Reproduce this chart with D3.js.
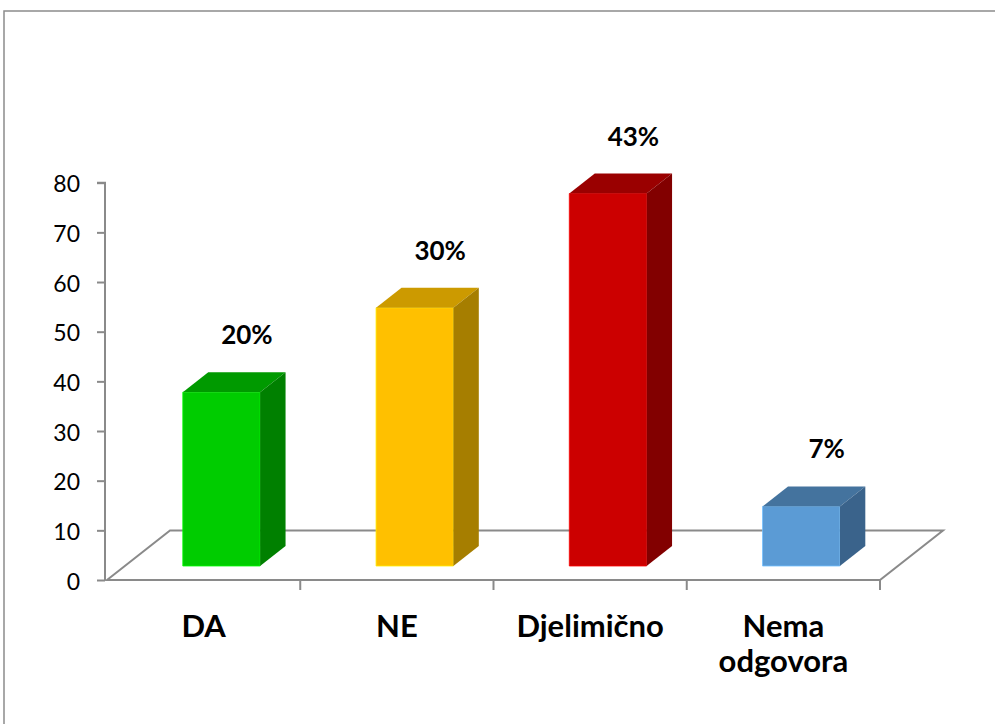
<!DOCTYPE html>
<html>
<head>
<meta charset="utf-8">
<script src="https://cdn.jsdelivr.net/npm/d3@7"></script>
<style>
  html, body { margin: 0; padding: 0; background: #fff; }
  svg { display: block; }
  text { font-family: Lato, "Open Sans", sans-serif; fill: #000; }
</style>
</head>
<body>
<svg id="chart" width="995" height="724"></svg>
<script>
// Survey answers and their counts
const categories = ["DA", "NE", "Djelimično", "Nema odgovora"];
const values = [35, 52, 75, 12];
const yTicks = [0, 10, 20, 30, 40, 50, 60, 70, 80];

// Face colours per bar: front, top, side
const frontColors = ["#00CC00", "#FFC000", "#CC0000", "#5B9BD5"];
const topColors   = ["#009A00", "#CC9A00", "#9A0000", "#44739E"];
const sideColors  = ["#008000", "#A67E00", "#820000", "#3A638B"];

const svg = d3.select("#chart");

// Outer chart frame
svg.append("rect")
  .attr("x", 4).attr("y", 11)
  .attr("width", 1100).attr("height", 800)
  .attr("fill", "none")
  .attr("stroke", "#8c8c8c")
  .attr("stroke-width", 1.5);

// Plot geometry (oblique 3D projection)
const floorLeft = 107, floorRight = 880, floorFront = 580;
const depthX = 63, depthY = -49.5;         // floor depth vector
const barFront = 0.283, barBack = 0.687;   // bar position inside the floor depth

const x = d3.scaleBand().domain(categories).range([floorLeft, floorRight]).padding(0);
const y = d3.scaleLinear().domain([0, 80]).range([floorFront, 182.7]);

const grey = "#8a8a8a";

// Floor
const floorPts = [
  [floorLeft, floorFront],
  [floorLeft + depthX, floorFront + depthY],
  [floorRight + depthX, floorFront + depthY],
  [floorRight, floorFront]
];
svg.append("path")
  .attr("d", d3.line()(floorPts) + "Z")
  .attr("fill", "#fff")
  .attr("stroke", grey)
  .attr("stroke-width", 2);

// Value axis
const yAxis = d3.axisLeft(y).tickValues(yTicks).tickSize(8).tickPadding(17);
const yg = svg.append("g")
  .attr("transform", `translate(${floorLeft - 2},0)`)
  .call(yAxis);
yg.select(".domain").attr("stroke", grey).attr("stroke-width", 2)
  .attr("d", `M-8,${y(80)}H0V${y(0)}`);
yg.selectAll(".tick line").attr("stroke", grey).attr("stroke-width", 2);
yg.selectAll(".tick text")
  .style("font-size", "23px")
  .attr("dy", "0.4em");

// Category separators below the floor's front edge
const sepX = categories.map(c => x(c) + x.step());
svg.append("g").selectAll("line")
  .data(sepX)
  .join("line")
  .attr("x1", d => d).attr("x2", d => d)
  .attr("y1", floorFront).attr("y2", floorFront + 10)
  .attr("stroke", grey).attr("stroke-width", 2);

// Bars
const total = d3.sum(values);
const barW = x.step() * 0.4;
const bdx = depthX * (barBack - barFront), bdy = depthY * (barBack - barFront);
const offX = depthX * barFront, offY = depthY * barFront;

const bars = svg.append("g").selectAll("g")
  .data(categories.map((c, i) => ({ c, v: values[i], i })))
  .join("g");

bars.each(function(d) {
  const g = d3.select(this);
  const x0 = x(d.c) + (x.step() - barW) / 2 + offX;
  const x1 = x0 + barW;
  const yb = y(0) + offY;
  const yt = y(d.v) + offY;
  // front face
  g.append("path")
    .attr("d", d3.line()([[x0, yb], [x0, yt], [x1, yt], [x1, yb]]) + "Z")
    .attr("fill", frontColors[d.i])
    .attr("stroke", d3.color(frontColors[d.i]).brighter(0.6))
    .attr("stroke-width", 0.8);
  // top face
  g.append("path")
    .attr("d", d3.line()([[x0, yt], [x0 + bdx, yt + bdy], [x1 + bdx, yt + bdy], [x1, yt]]) + "Z")
    .attr("fill", topColors[d.i]);
  // side face
  g.append("path")
    .attr("d", d3.line()([[x1, yt], [x1 + bdx, yt + bdy], [x1 + bdx, yb + bdy], [x1, yb]]) + "Z")
    .attr("fill", sideColors[d.i]);
  // percentage label
  g.append("text")
    .attr("x", (x0 + x1) / 2 + bdx)
    .attr("y", yt + bdy - 28)
    .attr("text-anchor", "middle")
    .style("font-size", "26px")
    .style("font-weight", "bold")
    .text(Math.round(d.v / total * 100) + "%");
});

// Category labels (wrapped on spaces for long names)
const catLabels = svg.append("g").selectAll("text")
  .data(categories)
  .join("text")
  .attr("text-anchor", "middle")
  .attr("transform", d => `translate(${x(d) + x.step() / 2},637)`)
  .style("font-size", "31px")
  .style("font-weight", "bold");
catLabels.each(function(d) {
  const words = d.length > 10 ? d.split(" ") : [d];
  d3.select(this).selectAll("tspan")
    .data(words)
    .join("tspan")
    .attr("x", 0)
    .attr("dy", (w, k) => k === 0 ? 0 : 35)
    .text(w => w);
});
</script>
</body>
</html>
